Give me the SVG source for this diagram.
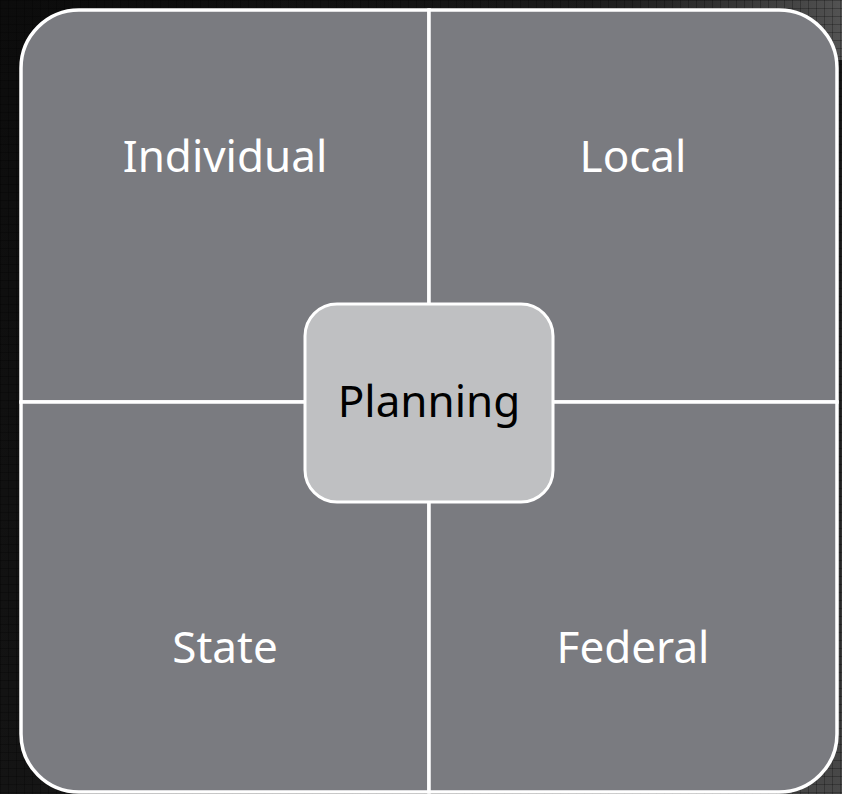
<svg xmlns="http://www.w3.org/2000/svg" width="842" height="794" viewBox="0 0 842 794">
  <defs>
    <linearGradient id="bg" x1="0" y1="0" x2="1" y2="1">
      <stop offset="0" stop-color="#0c0c0c"/>
      <stop offset="0.5" stop-color="#141414"/>
      <stop offset="0.8" stop-color="#2a2a2a"/>
      <stop offset="1" stop-color="#4a4a4a"/>
    </linearGradient>
    <linearGradient id="bgTop" x1="0" y1="0" x2="1" y2="0">
      <stop offset="0" stop-color="#000" stop-opacity="0"/>
      <stop offset="0.7" stop-color="#333" stop-opacity="0.3"/>
      <stop offset="1" stop-color="#5a5a5a" stop-opacity="0.9"/>
    </linearGradient>
    <pattern id="grid" width="8" height="8" patternUnits="userSpaceOnUse">
      <path d="M8 0 L0 0 0 8" fill="none" stroke="#000" stroke-opacity="0.5" stroke-width="1"/>
    </pattern>
    <style>
      .quad { fill: #7a7b80; stroke: #ffffff; stroke-width: 3.5; }
      .center { fill: #bfc0c2; stroke: #ffffff; stroke-width: 3; }
      .lbl { font-family: "Noto Sans", "Open Sans", "DejaVu Sans", sans-serif; font-size: 44px; text-anchor: middle; }
      .white { fill: #ffffff; }
      .black { fill: #000000; }
    </style>
  </defs>

  <rect x="0" y="0" width="842" height="794" fill="url(#bg)"/>
  <rect x="0" y="0" width="842" height="60" fill="url(#bgTop)"/>
  <rect x="0" y="0" width="842" height="794" fill="url(#grid)"/>

  <g id="individual">
    <path class="quad" d="M21 402 L21 68 A58 58 0 0 1 79 10 L429 10 L429 402 Z"/>
    <text class="lbl white" x="225" y="172">Individual</text>
  </g>
  <g id="local">
    <path class="quad" d="M429 402 L429 10 L779 10 A58 58 0 0 1 837 68 L837 402 Z"/>
    <text class="lbl white" x="633" y="172">Local</text>
  </g>
  <g id="state">
    <path class="quad" d="M21 402 L429 402 L429 792 L79 792 A58 58 0 0 1 21 734 Z"/>
    <text class="lbl white" x="225" y="663">State</text>
  </g>
  <g id="federal">
    <path class="quad" d="M429 402 L837 402 L837 734 A58 58 0 0 1 779 792 L429 792 Z"/>
    <text class="lbl white" x="633" y="663">Federal</text>
  </g>
  <g id="connectors"></g>
  <g id="planning">
    <rect class="center" x="305" y="304" width="248" height="198" rx="32" ry="32"/>
    <text class="lbl black" x="429" y="417">Planning</text>
  </g>
</svg>
